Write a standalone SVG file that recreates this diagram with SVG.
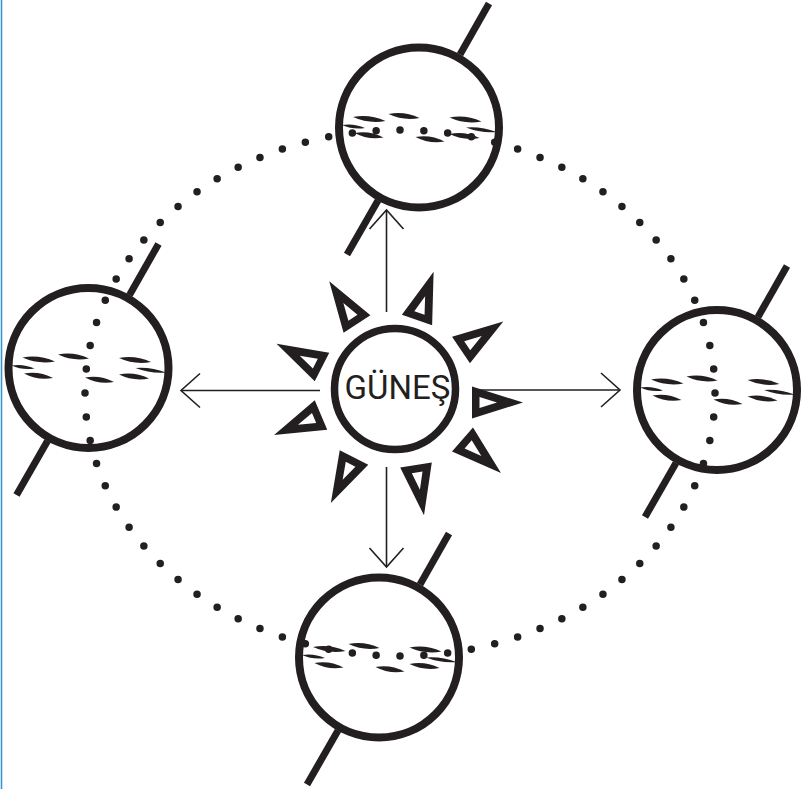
<svg xmlns="http://www.w3.org/2000/svg" xmlns:xlink="http://www.w3.org/1999/xlink" width="801" height="789" viewBox="0 0 801 789">
  <style>
    .globe-ring { stroke: #231f20; stroke-width: 8; fill: none; }
    .axis { stroke: #231f20; stroke-width: 7; fill: none; }
    .band { fill: #231f20; stroke: none; }
    .ray { fill: #231f20; fill-rule: evenodd; }
    .beam { stroke: #231f20; stroke-width: 1.6; fill: none; marker-end: url(#open-arrow); }
    .orbit { stroke: #231f20; stroke-width: 7.5; stroke-linecap: round; stroke-dasharray: 0 1; fill: none; }
    .label { font-family: Roboto, "Liberation Sans", sans-serif; font-size: 33px; fill: #231f20; text-anchor: middle; }
  </style>
  <defs>
    <marker id="open-arrow" markerUnits="userSpaceOnUse" markerWidth="40" markerHeight="40" refX="0" refY="0" orient="auto" overflow="visible">
      <path d="M-19,-17 L0,0 L-19,17" fill="none" stroke="#231f20" stroke-width="1.6"/>
    </marker>
    <!-- planet: ring, tilted axis and streaked equator band, drawn around (0,0) -->
    <g id="planet">
      <circle class="globe-ring" cx="0" cy="0" r="80"/>
      <line class="axis" x1="41" y1="-73" x2="70" y2="-124"/>
      <line class="axis" x1="-41" y1="73" x2="-72" y2="127"/>
      <path class="band" d="M-66,-10.5 Q-50.36,-3.54 -33.5,-6.5 Q-49.14,-13.46 -66,-10.5Z"/>
      <path class="band" d="M-77,-2.5 Q-65.96,2.46 -54,0.5 Q-65.04,-4.46 -77,-2.5Z"/>
      <path class="band" d="M-64.5,5.5 Q-50.77,12.69 -35.5,10 Q-49.23,2.81 -64.5,5.5Z"/>
      <path class="band" d="M-30.5,-13.5 Q-15.64,-6.54 0.5,-9.5 Q-14.36,-16.46 -30.5,-13.5Z"/>
      <path class="band" d="M-3.5,9.5 Q10.24,16.69 25.5,14 Q11.76,6.81 -3.5,9.5Z"/>
      <path class="band" d="M30.5,-10 Q45.88,-3.04 62.5,-6 Q47.12,-12.96 30.5,-10Z"/>
      <path class="band" d="M47,0 Q61.74,5.71 77.5,4.5 Q62.76,-1.21 47,0Z"/>
      <path class="band" d="M30.5,6.5 Q44.84,13.46 60.5,10.5 Q46.16,3.54 30.5,6.5Z"/>
    </g>
    <!-- hollow sun ray, base on the y axis, pointing along +x -->
    <path id="ray" class="ray" d="M0,-16 L51,0 L0,16 Z M7.5,-5.4 L25,0 L7.5,5.4 Z"/>
  </defs>

  <rect x="0" y="0" width="801" height="789" fill="#ffffff"/>
  <line x1="1.5" y1="0" x2="1.5" y2="789" stroke="#3a94cf" stroke-width="1.6"/>

  <!-- dotted orbit -->
  <g id="orbit">
    <ellipse class="orbit" cx="400" cy="393" rx="315" ry="263" pathLength="76"/>
  </g>

  <!-- light beams from the sun -->
  <g id="connectors">
    <line class="beam" x1="386.5" y1="312" x2="386.5" y2="210"/>
    <line class="beam" x1="386.5" y1="467" x2="386.5" y2="567"/>
    <line class="beam" x1="320" y1="390.5" x2="181" y2="390.5"/>
    <line class="beam" x1="478" y1="390" x2="620" y2="390"/>
  </g>

  <g id="sun">
    <circle cx="395" cy="389" r="60.5" fill="#ffffff" stroke="#231f20" stroke-width="7.5"/>
    <use href="#ray" transform="translate(472,402.5) rotate(0)"/>
    <use href="#ray" transform="translate(461,350) rotate(-34)"/>
    <use href="#ray" transform="translate(417,320) rotate(-71)"/>
    <use href="#ray" transform="translate(357,324) rotate(-123)"/>
    <use href="#ray" transform="translate(322,367) rotate(-153)"/>
    <use href="#ray" transform="translate(321,415) rotate(157)"/>
    <use href="#ray" transform="translate(354,457.5) rotate(117)"/>
    <use href="#ray" transform="translate(416,465) rotate(81)"/>
    <use href="#ray" transform="translate(462.5,439.5) rotate(41)"/>
    <text class="label" x="397.5" y="399">GÜNEŞ</text>
  </g>

  <g id="planet-top"><use href="#planet" x="419" y="127.5"/></g>
  <g id="planet-left"><use href="#planet" x="88.5" y="368"/></g>
  <g id="planet-right"><use href="#planet" x="717" y="390"/></g>
  <g id="planet-bottom"><use href="#planet" x="379" y="657.5"/></g>
</svg>
